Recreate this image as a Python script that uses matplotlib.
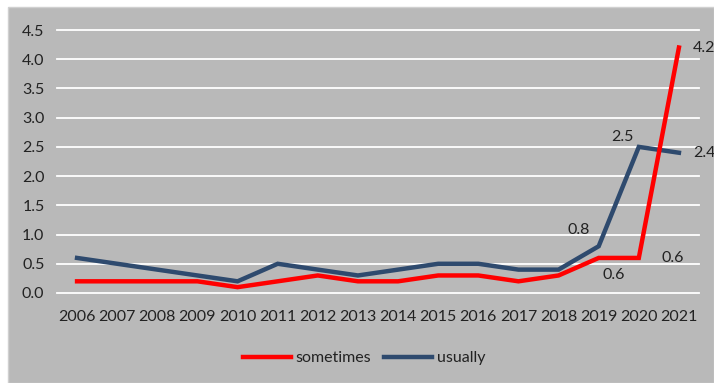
import matplotlib.pyplot as plt
from matplotlib.patches import Rectangle

# Data
years = ['2006', '2007', '2008', '2009', '2010', '2011', '2012', '2013',
         '2014', '2015', '2016', '2017', '2018', '2019', '2020', '2021']
sometimes = [0.2, 0.2, 0.2, 0.2, 0.1, 0.2, 0.3, 0.2,
             0.2, 0.3, 0.3, 0.2, 0.3, 0.6, 0.6, 4.2]
usually = [0.6, 0.5, 0.4, 0.3, 0.2, 0.5, 0.4, 0.3,
           0.4, 0.5, 0.5, 0.4, 0.4, 0.8, 2.5, 2.4]
y_ticks = [0.0, 0.5, 1.0, 1.5, 2.0, 2.5, 3.0, 3.5, 4.0, 4.5]

plt.rcParams['font.family'] = ['Lato', 'DejaVu Sans']

W, H = 714, 383
fig = plt.figure(figsize=(W / 100, H / 100), dpi=100)
fig.patch.set_facecolor('white')

# Grey chart panel (drawn behind the axes)
fig.patches.append(Rectangle((8 / W, 0), 1 - 8 / W, 1 - 7 / H,
                             transform=fig.transFigure, facecolor='#b9b9b9',
                             edgecolor='#d0d0d0', linewidth=1, zorder=-10))

ax = fig.add_axes([57 / W, 1 - 293 / H, (699 - 57) / W, (293 - 30) / H])
ax.set_facecolor('none')
for s in ax.spines.values():
    s.set_visible(False)

x = list(range(len(years)))
red = '#ff0000'
blue = '#2e4a6e'
ax.plot(x, sometimes, color=red, lw=3.2, label='sometimes', zorder=3,
        solid_joinstyle='miter')
ax.plot(x, usually, color=blue, lw=3.2, label='usually', zorder=2,
        solid_joinstyle='miter')

ax.set_xlim(-0.5, len(years) - 0.5)
ax.set_ylim(0, 4.5)
ax.set_yticks(y_ticks)
ax.set_yticklabels(['%.1f' % v for v in y_ticks])
ax.set_xticks(x)
ax.set_xticklabels(years)
ax.tick_params(axis='both', length=0, labelsize=11.5, colors='#222222')
ax.tick_params(axis='y', pad=9)
ax.tick_params(axis='x', pad=12)
ax.yaxis.grid(True, color='white', lw=1.3)
ax.set_axisbelow(True)
for line in ax.get_ygridlines():
    line.set_clip_on(False)

# Data labels
txt = dict(fontsize=11.5, color='#222222')
ax.annotate('4.2', (15, sometimes[15]), xytext=(10, 0),
            textcoords='offset points', ha='left', va='center', **txt)
ax.annotate('2.4', (15, usually[15]), xytext=(10, 0),
            textcoords='offset points', ha='left', va='center', **txt)
ax.annotate('2.5', (14, usually[14]), xytext=(-4, 7),
            textcoords='offset points', ha='right', va='center', **txt)
ax.annotate('0.8', (13, usually[13]), xytext=(-6, 12),
            textcoords='offset points', ha='right', va='center', **txt)
ax.annotate('0.6', (13, sometimes[13]), xytext=(11, -12),
            textcoords='offset points', ha='center', va='center', **txt)
ax.annotate('0.6', (14, sometimes[14]), xytext=(16, 0),
            textcoords='offset points', ha='left', va='center', **txt)

fig.legend(loc='center', bbox_to_anchor=(364 / W, 1 - 358 / H), ncol=2,
           frameon=False, fontsize=11.5, handlelength=3.0, handletextpad=0.3,
           columnspacing=0.8, labelcolor='#222222')

fig.savefig('out.png', dpi=100)
